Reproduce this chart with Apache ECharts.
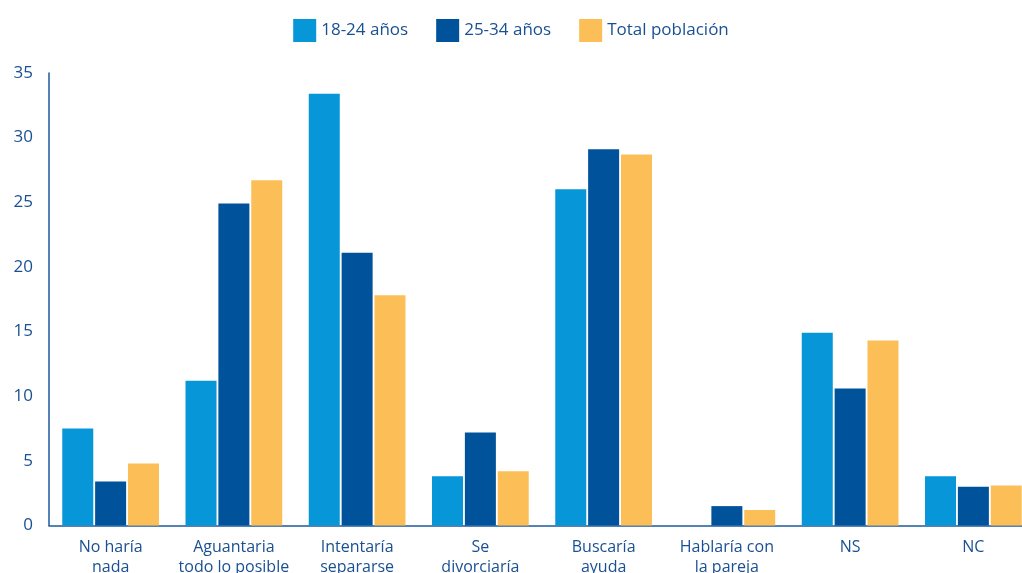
<!DOCTYPE html>
<html>
<head>
<meta charset="utf-8">
<script src="https://cdn.jsdelivr.net/npm/echarts@6/dist/echarts.min.js"></script>
<style>
  html, body { margin: 0; padding: 0; background: #ffffff; }
  #chart { width: 1022px; height: 573px; }
</style>
</head>
<body>
<div id="chart"></div>
<script>
const categories = ['No haría\nnada', 'Aguantaria\ntodo lo posible', 'Intentaría\nsepararse', 'Se\ndivorciaría', 'Buscaría\nayuda', 'Hablaría con\nla pareja', 'NS', 'NC'];
const seriesNames = ['18-24 años', '25-34 años', 'Total población'];
const values1824 = [7.5, 11.2, 33.4, 3.8, 26.0, 0, 14.9, 3.8];
const values2534 = [3.4, 24.9, 21.1, 7.2, 29.1, 1.5, 10.6, 3.0];
const valuesTotal = [4.8, 26.7, 17.8, 4.2, 28.7, 1.2, 14.3, 3.1];
const yTicks = { min: 0, max: 35, interval: 5 };

const colors = ['#0796d8', '#00529b', '#fcbf58'];
const textColor = '#1a5092';
const fontFamily = '"Open Sans", "Noto Sans", sans-serif';

const chart = echarts.init(document.getElementById('chart'));
const seriesData = [values1824, values2534, valuesTotal];
chart.setOption({
  animation: false,
  color: colors,
  textStyle: { fontFamily: fontFamily },
  legend: {
    top: 14,
    left: 'center',
    itemWidth: 23,
    itemHeight: 23,
    itemGap: 28,
    icon: 'rect',
    textStyle: { color: textColor, fontSize: 17, fontFamily: fontFamily },
    data: seriesNames
  },
  grid: { left: 49, right: -13, top: 73, bottom: 47.5, containLabel: false, outerBoundsMode: 'none' },
  xAxis: {
    type: 'category',
    data: categories,
    axisLine: { show: true, lineStyle: { color: '#1d5a9c', width: 1.5 } },
    axisTick: { show: false },
    axisLabel: { color: textColor, fontSize: 16, lineHeight: 20, margin: 12, interval: 0, fontFamily: fontFamily }
  },
  yAxis: {
    type: 'value',
    min: yTicks.min,
    max: yTicks.max,
    interval: yTicks.interval,
    splitLine: { show: false },
    axisLine: { show: true, lineStyle: { color: '#1d5a9c', width: 1.5 } },
    axisTick: { show: false },
    axisLabel: { color: textColor, fontSize: 17, margin: 16, fontFamily: fontFamily }
  },
  series: seriesNames.map((name, i) => ({
    name: name,
    type: 'bar',
    data: seriesData[i],
    barWidth: 31,
    barGap: '6%',
    itemStyle: { color: colors[i] }
  }))
});
</script>
</body>
</html>
